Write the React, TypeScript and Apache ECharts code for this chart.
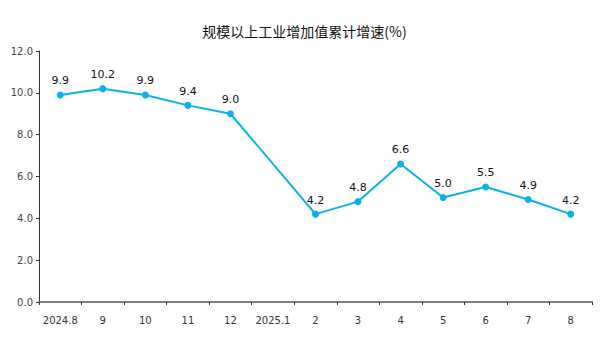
import React, { useEffect, useRef } from "react";
import * as echarts from "echarts";

const categories = ["2024.8", "9", "10", "11", "12", "2025.1", "2", "3", "4", "5", "6", "7", "8"];
const growth: (number | null)[] = [9.9, 10.2, 9.9, 9.4, 9.0, null, 4.2, 4.8, 6.6, 5.0, 5.5, 4.9, 4.2];
const titleText = "规模以上工业增加值累计增速(%)";

export default function App() {
  const ref = useRef<HTMLDivElement>(null);
  useEffect(() => {
    if (!ref.current) return;
    const chart = echarts.init(ref.current, undefined, { renderer: "svg" });
    chart.setOption({
      animation: false,
      backgroundColor: "#ffffff",
      title: {
        text: titleText,
        left: "center",
        top: 19,
        textStyle: {
          fontSize: 14,
          fontWeight: "normal",
          color: "#111",
          fontFamily: "Noto Sans CJK SC",
        },
      },
      grid: { left: 39, right: 17, top: 51, bottom: 49 },
      xAxis: {
        type: "category",
        data: categories,
        boundaryGap: true,
        axisLine: { lineStyle: { color: "#7f7f7f", width: 2 } },
        axisTick: { show: true, length: 3, interval: 0, lineStyle: { color: "#333", width: 1 } },
        axisLabel: {
          interval: 0,
          color: "#333",
          fontSize: 10,
          margin: 13,
          fontFamily: "DejaVu Sans",
        },
      },
      yAxis: {
        type: "value",
        min: 0,
        max: 12,
        interval: 2,
        splitLine: { show: false },
        axisLine: { show: true, lineStyle: { color: "#333", width: 1 } },
        axisTick: { show: true, length: 3, lineStyle: { color: "#333" } },
        axisLabel: {
          color: "#444",
          fontSize: 10,
          margin: 6,
          fontFamily: "DejaVu Sans",
          formatter: (v: number) => v.toFixed(1),
        },
      },
      series: [
        {
          type: "line",
          data: growth,
          connectNulls: true,
          symbol: "circle",
          symbolSize: 7,
          lineStyle: { color: "#0AB0EC", width: 2 },
          itemStyle: { color: "#0AB0EC" },
          label: {
            show: true,
            position: "top",
            distance: 5,
            color: "#111",
            fontSize: 11,
            fontFamily: "DejaVu Sans",
            formatter: (p: any) => Number(p.value).toFixed(1),
          },
        },
      ],
    });
    return () => chart.dispose();
  }, []);
  return <div ref={ref} style={{ width: 609, height: 351, position: "absolute", left: 0, top: 0 }} />;
}
